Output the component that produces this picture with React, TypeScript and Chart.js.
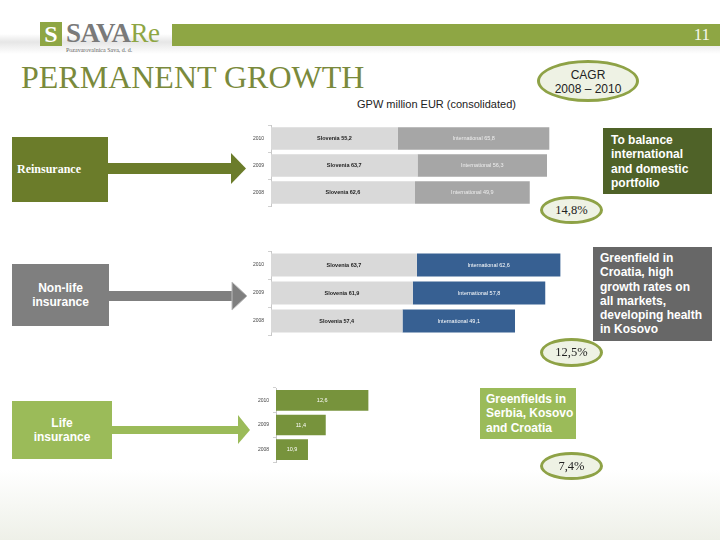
import React, { useEffect, useRef } from "react";
import { Chart, registerables } from "chart.js";
Chart.register(...registerables);

const years = ["2010", "2009", "2008"];
const reSlovenia = [55.2, 63.7, 62.6];
const reInternational = [65.8, 56.3, 49.9];
const nlSlovenia = [63.7, 61.9, 57.4];
const nlInternational = [62.6, 57.8, 49.1];
const lifeValues = [12.6, 11.4, 10.9];
const cagrLabels = ["14,8%", "12,5%", "7,4%"];

const fmt = (v: number) => v.toFixed(1).replace(".", ",");

const labelPlugin = {
  id: "barLabels",
  afterDatasetsDraw(chart: any) {
    const ctx = chart.ctx;
    const area = chart.chartArea;
    chart.data.datasets.forEach((ds: any, i: number) => {
      const meta = chart.getDatasetMeta(i);
      meta.data.forEach((el: any, j: number) => {
        const { x, base, y } = el.getProps(["x", "base", "y"], true);
        const b = Math.max(base, area.left);
        ctx.save();
        ctx.font = ds.labelFont;
        ctx.fillStyle = ds.labelColor;
        ctx.textAlign = "center";
        ctx.textBaseline = "middle";
        ctx.fillText(ds.labelPrefix + fmt(ds.data[j]), (x + b) / 2, y);
        ctx.restore();
      });
    });
  },
};

type DS = { name: string; data: number[]; color: string; labelPrefix: string; labelColor: string; labelFont: string };

function MiniBar(props: { left: number; top: number; width: number; height: number; datasets: DS[]; xMin: number; xMax: number; axisWidth: number; barPct: number; stacked: boolean }) {
  const ref = useRef<HTMLCanvasElement>(null);
  useEffect(() => {
    const chart = new Chart(ref.current!, {
      type: "bar",
      data: {
        labels: years,
        datasets: props.datasets.map((d) => ({
          label: d.name,
          data: d.data,
          backgroundColor: d.color,
          borderWidth: 0,
          barPercentage: props.barPct,
          categoryPercentage: 1,
          labelPrefix: d.labelPrefix,
          labelColor: d.labelColor,
          labelFont: d.labelFont,
        })) as any,
      },
      options: {
        indexAxis: "y",
        animation: false,
        responsive: false,
        maintainAspectRatio: false,
        layout: { padding: { top: 4, bottom: 4, left: 0, right: 0 } },
        plugins: { legend: { display: false }, tooltip: { enabled: false } },
        scales: {
          x: { display: false, stacked: props.stacked, min: props.xMin, max: props.xMax },
          y: {
            stacked: props.stacked,
            afterFit: (s: any) => {
              s.width = props.axisWidth;
            },
            grid: { display: true, drawOnChartArea: false, drawTicks: true, tickLength: 3, color: "#d0d0d0", offset: true },
            border: { display: true, color: "#c8c8c8" },
            ticks: { font: { size: 5, family: "Liberation Sans" }, color: "#444", padding: 4 },
          },
        },
      } as any,
      plugins: [labelPlugin],
    });
    return () => chart.destroy();
  }, []);
  return (
    <canvas
      ref={ref}
      width={props.width}
      height={props.height}
      style={{ position: "absolute", left: props.left, top: props.top, width: props.width, height: props.height }}
    />
  );
}

const boxText: React.CSSProperties = {
  position: "absolute",
  color: "#fff",
  fontFamily: "'Liberation Sans', Arial, sans-serif",
  fontWeight: "bold",
  fontSize: 12,
  lineHeight: "14.3px",
  boxSizing: "border-box",
};

function Oval(props: { left: number; top: number; width: number; height: number; text: string }) {
  return (
    <div
      style={{
        position: "absolute",
        left: props.left,
        top: props.top,
        width: props.width,
        height: props.height,
        boxSizing: "border-box",
        borderRadius: "50%",
        border: "3px solid #8ea246",
        background: "#eef2e4",
        display: "flex",
        alignItems: "center",
        justifyContent: "center",
        fontFamily: "'Liberation Serif', serif",
        fontSize: 12.5,
        color: "#222",
      }}
    >
      {props.text}
    </div>
  );
}

export default function App() {
  const small = "bold 5.5px 'Liberation Sans'";
  return (
    <div style={{ position: "fixed", left: 0, top: 0, width: 720, height: 540, overflow: "hidden", background: "#fff" }}>
      {/* background tints */}
      <div style={{ position: "absolute", left: 0, top: 470, width: 720, height: 70, background: "linear-gradient(#ffffff, #eef0e8)" }} />
      <div style={{ position: "absolute", left: 0, top: 34, width: 720, height: 20, background: "linear-gradient(#ffffff, #e6e6e6 40%, #ffffff)" }} />
      {/* header bar */}
      <div style={{ position: "absolute", left: 172, top: 24, width: 548, height: 22, background: "#8ea644" }} />
      <div style={{ position: "absolute", left: 670, top: 24, width: 40, height: 22, color: "#f6f6ea", fontFamily: "'Liberation Serif', serif", fontSize: 17, lineHeight: "22px", textAlign: "right" }}>11</div>
      {/* logo */}
      <div style={{ position: "absolute", left: 40, top: 22, width: 22, height: 24, background: "#8ea644", color: "#fff", fontFamily: "'Liberation Serif', serif", fontWeight: "bold", fontSize: 24, lineHeight: "24px", textAlign: "center" }}>S</div>
      <div style={{ position: "absolute", left: 66, top: 20, height: 26, fontFamily: "'Liberation Serif', serif", fontWeight: "bold", fontSize: 27, lineHeight: "26px", color: "#7a7a7a", letterSpacing: -0.5, whiteSpace: "nowrap" }}>
        SAVA<span style={{ color: "#8ea644", fontWeight: "normal" }}>Re</span>
      </div>
      <div style={{ position: "absolute", left: 66, top: 47, fontFamily: "'Liberation Serif', serif", fontSize: 6, lineHeight: "7px", color: "#666", whiteSpace: "nowrap" }}>Pozavarovalnica Sava, d. d.</div>
      {/* title */}
      <div style={{ position: "absolute", left: 21, top: 59, fontFamily: "'Liberation Serif', serif", fontSize: 32, lineHeight: "36px", color: "#7a8a3c", whiteSpace: "nowrap" }}>PERMANENT GROWTH</div>
      {/* CAGR oval */}
      <div
        style={{
          position: "absolute", left: 537, top: 60, width: 102, height: 42, boxSizing: "border-box", borderRadius: "50%",
          border: "3px solid #8ea246", background: "#eef2e4", textAlign: "center", fontFamily: "'Liberation Sans', Arial, sans-serif",
          fontSize: 12, lineHeight: "14px", color: "#222", paddingTop: 5,
        }}
      >
        CAGR<br />2008 – 2010
      </div>
      <div style={{ position: "absolute", left: 357, top: 98, fontFamily: "'Liberation Sans', Arial, sans-serif", fontSize: 11, color: "#222", whiteSpace: "nowrap" }}>GPW million EUR (consolidated)</div>

      {/* arrows */}
      <svg width={720} height={540} style={{ position: "absolute", left: 0, top: 0 }}>
        <rect x={108} y={163} width={124} height={11} fill="#6b7c2a" />
        <polygon points="231,153 246,168.5 231,184" fill="#6b7c2a" />
        <rect x={109} y={291} width={124} height={10} fill="#7f7f7f" />
        <polygon points="232,282 247,296 232,310" fill="#7f7f7f" stroke="#bdbdbd" strokeWidth={1} />
        <rect x={112} y={426} width={127} height={8} fill="#9bbb59" />
        <polygon points="238,415 250,430 238,444" fill="#9bbb59" />
      </svg>

      {/* left boxes */}
      <div style={{ position: "absolute", left: 12, top: 137, width: 96, height: 65, background: "#6b7c2a", color: "#fff", fontFamily: "'Liberation Serif', serif", fontWeight: "bold", fontSize: 12, display: "flex", alignItems: "center", paddingLeft: 5, boxSizing: "border-box" }}>Reinsurance</div>
      <div style={{ ...boxText, left: 12, top: 264, width: 97, height: 62, background: "#7f7f7f", display: "flex", alignItems: "center", justifyContent: "center", textAlign: "center" }}>Non-life<br />insurance</div>
      <div style={{ ...boxText, left: 12, top: 401, width: 100, height: 58, background: "#9bbb59", display: "flex", alignItems: "center", justifyContent: "center", textAlign: "center" }}>Life<br />insurance</div>

      {/* charts */}
      <MiniBar
        left={240} top={118} width={330} height={95} axisWidth={31} barPct={0.83} xMin={0} xMax={130} stacked={true}
        datasets={[
          { name: "Slovenia", data: reSlovenia, color: "#d9d9d9", labelPrefix: "Slovenia ", labelColor: "#222", labelFont: small },
          { name: "International", data: reInternational, color: "#a6a6a6", labelPrefix: "International ", labelColor: "#eeeeee", labelFont: "5.5px 'Liberation Sans'" },
        ]}
      />
      <MiniBar
        left={240} top={244} width={330} height={98} axisWidth={31} barPct={0.82} xMin={0} xMax={130.5} stacked={true}
        datasets={[
          { name: "Slovenia", data: nlSlovenia, color: "#d9d9d9", labelPrefix: "Slovenia ", labelColor: "#222", labelFont: small },
          { name: "International", data: nlInternational, color: "#376092", labelPrefix: "International ", labelColor: "#ffffff", labelFont: "5.5px 'Liberation Sans'" },
        ]}
      />
      <MiniBar
        left={240} top={381} width={160} height={88} axisWidth={36} barPct={0.84} xMin={10} xMax={13.49} stacked={false}
        datasets={[
          { name: "Life", data: lifeValues, color: "#77933c", labelPrefix: "", labelColor: "#ffffff", labelFont: "5.5px 'Liberation Sans'" },
        ]}
      />

      {/* right boxes */}
      <div style={{ ...boxText, left: 603, top: 128, width: 109, height: 66, background: "#4f6228", padding: "5px 12px 0 8px" }}>To balance international and domestic portfolio</div>
      <div style={{ ...boxText, left: 593, top: 247, width: 119, height: 94, background: "#676767", padding: "4px 10px 0 7px" }}>Greenfield in Croatia, high growth rates on all markets, developing health in Kosovo</div>
      <div style={{ ...boxText, left: 480, top: 388, width: 96, height: 51, background: "#9bbb59", padding: "4px 0 0 6px" }}>Greenfields in Serbia, Kosovo and Croatia</div>

      {/* CAGR ovals */}
      <Oval left={540} top={196} width={63} height={28} text={cagrLabels[0]} />
      <Oval left={540} top={338} width={63} height={29} text={cagrLabels[1]} />
      <Oval left={540} top={452} width={63} height={28} text={cagrLabels[2]} />
    </div>
  );
}
